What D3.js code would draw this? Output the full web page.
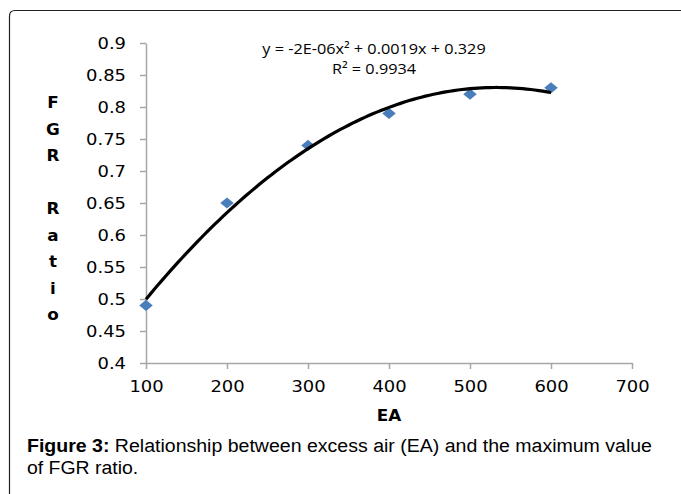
<!DOCTYPE html>
<html>
<head>
<meta charset="utf-8">
<script src="https://cdn.jsdelivr.net/npm/d3@7"></script>
<style>
  body { margin: 0; background: #fff; }
  svg { display: block; }
</style>
</head>
<body>
<div id="chart"></div>
<script>
// data
const eaValues = [100, 200, 300, 400, 500, 600]
const fgrRatio = [0.49, 0.65, 0.74, 0.79, 0.82, 0.83]
const xTicks = [100, 200, 300, 400, 500, 600, 700]
const yTicks = [0.4, 0.45, 0.5, 0.55, 0.6, 0.65, 0.7, 0.75, 0.8, 0.85, 0.9]
const yTitleLetters = ['F', 'G', 'R', '', 'R', 'a', 't', 'i', 'o']
const equationLines = ['y = -2E-06x\u00b2 + 0.0019x + 0.329', 'R\u00b2 = 0.9934']

const width = 681, height = 494
// the source figure is a little stretched sideways
const stretchX = 1.12

function stretch(sel, f) {
    sel.each(function () {
        const w = this.getComputedTextLength()
        if (w > 0) d3.select(this).attr('textLength', w * f).attr('lengthAdjust', 'spacingAndGlyphs')
    })
}

const svg = d3.select('#chart')
    .append('svg')
    .attr('width', width)
    .attr('height', height)

// frame with a rounded top-left corner
svg.append('path')
    .attr('d', 'M9.5,' + height + ' L9.5,16 Q9.5,10.5 15,10.5 L' + width + ',10.5')
    .attr('fill', 'none')
    .attr('stroke', '#222')
    .attr('stroke-width', 1.2)

const x = d3.scaleLinear().domain([100, 700]).range([146, 632])
const y = d3.scaleLinear().domain([0.4, 0.9]).range([363, 43])

// axes
const xAxis = svg.append('g')
    .attr('transform', 'translate(0,363)')
    .call(d3.axisBottom(x).tickValues(xTicks).tickSize(6).tickPadding(12).tickSizeOuter(0))
const yAxis = svg.append('g')
    .attr('transform', 'translate(146,0)')
    .call(d3.axisLeft(y).tickValues(yTicks).tickSize(6).tickPadding(14).tickSizeOuter(0)
        .tickFormat(d => String(+d.toFixed(2))))

for (const g of [xAxis, yAxis]) {
    g.select('.domain').attr('stroke', '#a6a6a6').attr('stroke-width', 1.5)
    g.selectAll('.tick line').attr('stroke', '#a6a6a6').attr('stroke-width', 1.5)
    g.selectAll('.tick text')
        .attr('fill', '#000')
        .style('font-family', 'DejaVu Sans, Verdana, sans-serif')
        .style('font-size', '16px')
        .call(stretch, stretchX)
}

// quadratic least-squares trendline (as the spreadsheet computes it)
function quadFit(xs, ys) {
    let s = [0, 0, 0, 0, 0], t = [0, 0, 0]
    xs.forEach((xi, i) => {
        for (let k = 0; k < 5; k++) s[k] += Math.pow(xi, k)
        for (let k = 0; k < 3; k++) t[k] += ys[i] * Math.pow(xi, k)
    })
    const M = [[s[0], s[1], s[2], t[0]], [s[1], s[2], s[3], t[1]], [s[2], s[3], s[4], t[2]]]
    for (let c = 0; c < 3; c++) {
        for (let r = c + 1; r < 3; r++) {
            const f = M[r][c] / M[c][c]
            for (let k = c; k < 4; k++) M[r][k] -= f * M[c][k]
        }
    }
    const b = [0, 0, 0]
    for (let r = 2; r >= 0; r--) {
        let v = M[r][3]
        for (let k = r + 1; k < 3; k++) v -= M[r][k] * b[k]
        b[r] = v / M[r][r]
    }
    return xv => b[0] + b[1] * xv + b[2] * xv * xv
}
const fit = quadFit(eaValues, fgrRatio)
const trend = d3.range(100, 601, 5).map(v => [v, fit(v)])

// markers
svg.append('g')
    .selectAll('path')
    .data(eaValues.map((v, i) => [v, fgrRatio[i]]))
    .join('path')
    .attr('d', d3.symbol(d3.symbolDiamond2, 105))
    .attr('transform', d => 'translate(' + x(d[0]) + ',' + y(d[1]) + ') scale(1.05,0.87)')
    .attr('fill', '#4a7ebb')

svg.append('path')
    .datum(trend)
    .attr('d', d3.line().x(d => x(d[0])).y(d => y(d[1])).curve(d3.curveBasis))
    .attr('fill', 'none')
    .attr('stroke', '#000')
    .attr('stroke-width', 3.2)

// trendline equation
svg.append('g')
    .selectAll('text')
    .data(equationLines)
    .join('text')
    .attr('x', 374)
    .attr('y', (d, i) => 54 + i * 20)
    .attr('text-anchor', 'middle')
    .style('font-family', 'Open Sans, sans-serif')
    .style('font-size', '14.5px')
    .text(d => d)
    .call(stretch, stretchX)

// y title, stacked letters
svg.append('g')
    .selectAll('text')
    .data(yTitleLetters)
    .join('text')
    .attr('x', 53)
    .attr('y', (d, i) => 108 + i * 26.5)
    .attr('text-anchor', 'middle')
    .style('font-family', 'DejaVu Sans, Verdana, sans-serif')
    .style('font-weight', 'bold')
    .style('font-size', '15px')
    .text(d => d)
    .call(stretch, stretchX)

// x title
svg.append('text')
    .attr('x', 389)
    .attr('y', 421)
    .attr('text-anchor', 'middle')
    .style('font-family', 'DejaVu Sans, Verdana, sans-serif')
    .style('font-weight', 'bold')
    .style('font-size', '15px')
    .text('EA')
    .call(stretch, stretchX)

// caption
const cap = svg.append('text')
    .attr('x', 27)
    .attr('y', 452)
    .attr('textLength', 625)
    .attr('lengthAdjust', 'spacingAndGlyphs')
    .style('font-family', 'Liberation Sans, Arial, sans-serif')
    .style('font-size', '18px')
cap.append('tspan').style('font-weight', 'bold').text('Figure 3:')
cap.append('tspan').text(' Relationship between excess air (EA) and the maximum value')
svg.append('text')
    .attr('x', 27)
    .attr('y', 474)
    .style('font-family', 'Liberation Sans, Arial, sans-serif')
    .style('font-size', '18px')
    .text('of FGR ratio.')
    .call(stretch, 1.08)
</script>
</body>
</html>
